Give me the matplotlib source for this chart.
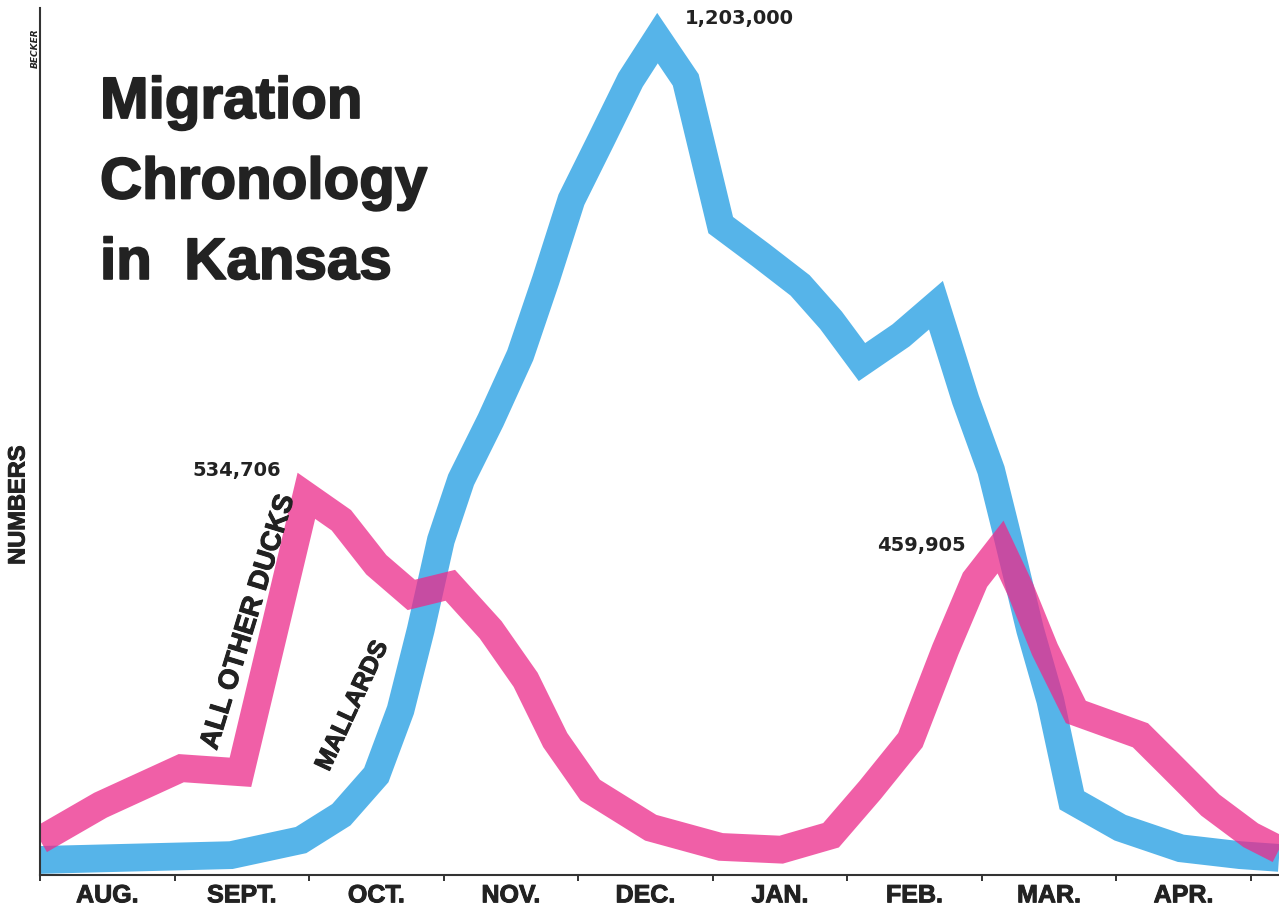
import matplotlib.pyplot as plt
import matplotlib.patheffects as pe

# month positions (0 = start of Aug) and counts in thousands
mallard_month = [0.0, 1.42, 1.94, 2.24, 2.50, 2.68, 2.83, 2.98, 3.13, 3.35, 3.57, 3.76, 3.95,
                 4.17, 4.39, 4.59, 4.80, 5.06, 5.36, 5.65, 5.88, 6.11, 6.40, 6.66, 6.88, 7.07,
                 7.18, 7.36, 7.51, 7.67, 8.03, 8.48, 8.92, 9.21]
mallard_count = [3, 10, 32, 69, 127, 222, 339, 470, 558, 645, 740, 850, 967,
                 1054, 1142, 1203, 1142, 930, 886, 842, 791, 730, 769, 813, 675, 572,
                 485, 339, 236, 90, 50, 20, 10, 6]

other_month = [0.0, 0.45, 1.05, 1.49, 1.98, 2.24, 2.50, 2.76, 3.05, 3.35, 3.61, 3.83, 4.09,
               4.54, 5.06, 5.51, 5.88, 6.17, 6.47, 6.73, 6.95, 7.14, 7.29, 7.47, 7.70,
               8.18, 8.40, 8.70, 9.00, 9.21]
other_count = [32, 83, 137, 131, 534.706, 499, 434, 390, 404, 339, 266, 178, 105,
               50, 22, 18, 39, 105, 178, 310, 412, 459.905, 397, 310, 219,
               185, 142, 83, 39, 18]

months = ["AUG.", "SEPT.", "OCT.", "NOV.", "DEC.", "JAN.", "FEB.", "MAR.", "APR."]

blue = "#1E9BE2"
pink = "#EC2A8A"
ink = "#222222"
heavy = [pe.withStroke(linewidth=0.7, foreground=ink)]

fig = plt.figure(figsize=(12.79, 9.13), dpi=100)
ax = fig.add_axes([40 / 1279, 38 / 913, 1 - 40 / 1279, 867 / 913])

ax.plot(mallard_month, mallard_count, color=blue, lw=20, alpha=0.75,
        solid_joinstyle="miter", solid_capstyle="butt")
ax.plot(other_month, other_count, color=pink, lw=20, alpha=0.75,
        solid_joinstyle="miter", solid_capstyle="butt")

ax.set_xlim(0, 9.21)
ax.set_ylim(-19, 1247)

for s in ["top", "right"]:
    ax.spines[s].set_visible(False)
for s in ["left", "bottom"]:
    ax.spines[s].set_linewidth(1.5)
    ax.spines[s].set_color("#333333")

ax.set_yticks([])
ax.set_xticks(range(10))
ax.set_xticklabels([])
ax.tick_params(axis="x", which="major", length=4, width=1.4, color="#333333")
ax.set_xticks([i + 0.5 for i in range(9)], minor=True)
ax.set_xticklabels(months, minor=True, fontsize=18, fontweight="bold",
                   family="Liberation Sans", color=ink, path_effects=heavy)
ax.tick_params(axis="x", which="minor", length=0, pad=6)

# title block
fig.text(100 / 1279, 1 - 76 / 913, "Migration\nChronology\nin  Kansas",
         fontsize=42, fontweight="bold", family="Liberation Sans", color=ink,
         va="top", ha="left", linespacing=1.63,
         path_effects=[pe.withStroke(linewidth=1.3, foreground=ink)])

fig.text(18 / 1279, 1 - 505 / 913, "NUMBERS", rotation=90, fontsize=17,
         fontweight="bold", family="Liberation Sans", color=ink, va="center", ha="center",
         path_effects=heavy)

fig.text(35 / 1279, 1 - 48 / 913, "BECKER", rotation=90, fontsize=6.5,
         fontweight="bold", style="italic", color=ink, va="center", ha="center")

# peak values
num_font = dict(fontsize=14, family="DejaVu Sans", color=ink, fontweight="bold")
ax.annotate("1,203,000", (4.59, 1203), xytext=(20, 14), textcoords="offset points",
            ha="left", va="center", **num_font)
ax.annotate("534,706", (1.98, 534.706), xytext=(-18, 18), textcoords="offset points",
            ha="right", va="center", **num_font)
ax.annotate("459,905", (7.14, 459.905), xytext=(-25, 1), textcoords="offset points",
            ha="right", va="center", **num_font)

# series labels along the lines
ax.text(1.55, 350, "ALL OTHER DUCKS", rotation=73, fontsize=20, fontweight="bold",
        family="Liberation Sans", color=ink, ha="center", va="center", path_effects=heavy)
ax.text(2.32, 228, "MALLARDS", rotation=65, fontsize=18, fontweight="bold",
        family="Liberation Sans", color=ink, ha="center", va="center", path_effects=heavy)

fig.savefig("out.png", dpi=100)
